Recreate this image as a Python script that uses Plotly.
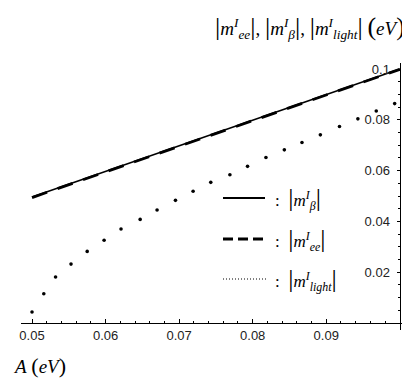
import plotly.graph_objects as go

# A (eV) on the x axis
a_line = [0.050, 0.060, 0.070, 0.080, 0.090, 0.100]
m_beta = [0.0496, 0.0597, 0.0698, 0.0799, 0.0899, 0.1000]
m_ee = [0.0494, 0.0595, 0.0696, 0.0797, 0.0898, 0.0999]

# |m_light| is drawn as a dotted curve (the dots themselves)
a_light = [0.0500, 0.0516, 0.0532, 0.0553, 0.0575, 0.0598, 0.0621, 0.0647, 0.0670, 0.0695, 0.0719,
           0.0743, 0.0769, 0.0793, 0.0818, 0.0843, 0.0867, 0.0892, 0.0918, 0.0943, 0.0968, 0.0993]
m_light = [0.0043, 0.0115, 0.0181, 0.0232, 0.0282, 0.0326, 0.0370, 0.0408, 0.0445, 0.0483, 0.0519,
           0.0554, 0.0584, 0.0617, 0.0652, 0.0682, 0.0711, 0.0741, 0.0774, 0.0804, 0.0835, 0.0864]

x_ticks = [0.05, 0.06, 0.07, 0.08, 0.09]
x_ticktext = ['0.05', '0.06', '0.07', '0.08', '0.09']
y_ticks = [0.02, 0.04, 0.06, 0.08, 0.1]
y_ticktext = ['0.02', '0.04', '0.06', '0.08', '0.1']

x_range = [0.0485, 0.10125]
y_range = [-0.00276, 0.1024]

# plot area in pixels
L, R, T, B = 13, 9, 55, 59
W, H = 410, 381


def px_x(px):
    return (px - L) / (W - L - R)


def px_y(py):
    return (H - B - py) / (H - T - B)


serif = 'Liberation Serif'


def absm(sub, barsize):
    bar = "<span style='font-size:%dpx'>|</span>" % barsize
    return bar + "<i>m</i><sup><i>I</i></sup><sub><i>" + sub + "</i></sub>" + bar


fig = go.Figure()

fig.add_trace(go.Scatter(x=a_line, y=m_beta, mode='lines',
                         line=dict(color='black', width=1.6)))

fig.add_trace(go.Scatter(x=a_line, y=m_ee, mode='lines',
                         line=dict(color='black', width=2.8, dash='16px,11px')))

fig.add_trace(go.Scatter(x=a_light, y=m_light, mode='markers',
                         marker=dict(color='black', size=3.6)))

tickfont = dict(family='Liberation Sans', size=13, color='#222')

fig.update_xaxes(
    range=x_range, anchor='free', position=px_y(315),
    showline=True, linecolor='black', linewidth=1,
    showgrid=False, zeroline=False,
    ticks='inside', ticklen=4, tickcolor='black', tickwidth=1,
    tickmode='array', tickvals=x_ticks, ticktext=x_ticktext,
    tickfont=tickfont,
    minor=dict(ticks='inside', ticklen=2, tickcolor='black',
               tickmode='array',
               tickvals=[round(0.05 + 0.002 * i, 3) for i in range(26) if i % 5]),
)

fig.update_yaxes(
    range=y_range, anchor='free', position=px_x(391.5), side='left',
    showline=True, linecolor='black', linewidth=1,
    showgrid=False, zeroline=False,
    ticks='outside', ticklen=3, tickcolor='black', tickwidth=1,
    tickmode='array', tickvals=y_ticks, ticktext=y_ticktext,
    tickfont=tickfont, ticklabelstandoff=4,
    minor=dict(ticks='outside', ticklen=2, tickcolor='black',
               tickmode='array',
               tickvals=[round(0.005 * i, 3) for i in range(21) if i % 4]),
)

annotations = [
    dict(text=absm('ee', 26) + ", " + absm('β', 26) + ", " + absm('light', 26)
         + " <span style='font-size:26px'>(</span><i>eV</i><span style='font-size:26px'>)</span>",
         x=px_x(399), y=px_y(19), xanchor='right', yanchor='middle',
         font=dict(family=serif, size=19, color='black')),
    dict(text="<i>A</i> <span style='font-size:22px'>(</span><i>eV</i><span style='font-size:22px'>)</span>",
         x=px_x(3), y=px_y(357), xanchor='left', yanchor='middle',
         font=dict(family=serif, size=19, color='black')),
]

legend_rows = [(190, 'β'), (231, 'ee'), (271, 'light')]
for py, sub in legend_rows:
    annotations.append(dict(text=":  " + absm(sub, 26), x=px_x(265), y=px_y(py),
                            xanchor='left', yanchor='middle',
                            font=dict(family=serif, size=17, color='black')))

for a in annotations:
    a.update(xref='paper', yref='paper', showarrow=False)

shapes = [
    dict(type='line', x0=px_x(215), x1=px_x(257), y0=px_y(190), y1=px_y(190),
         line=dict(color='black', width=2)),
    dict(type='line', x0=px_x(215), x1=px_x(257), y0=px_y(231), y1=px_y(231),
         line=dict(color='black', width=3, dash='10px,5px')),
    dict(type='line', x0=px_x(215), x1=px_x(258), y0=px_y(271), y1=px_y(271),
         line=dict(color='black', width=1.2, dash='1px,2px')),
]
for s in shapes:
    s.update(xref='paper', yref='paper')

fig.update_layout(
    width=W, height=H,
    margin=dict(l=L, r=R, t=T, b=B),
    showlegend=False,
    plot_bgcolor='white', paper_bgcolor='white',
    annotations=annotations,
    shapes=shapes,
)

fig.write_html("out.html")
